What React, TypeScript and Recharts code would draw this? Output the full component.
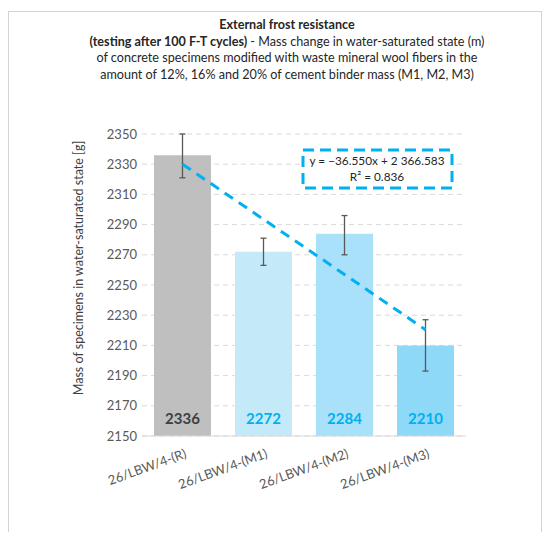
import React from 'react';
import {
  ComposedChart,
  Bar,
  Line,
  Cell,
  XAxis,
  YAxis,
  CartesianGrid,
  ErrorBar,
  LabelList,
} from 'recharts';

const categories = ['26/LBW/4-(R)', '26/LBW/4-(M1)', '26/LBW/4-(M2)', '26/LBW/4-(M3)'];
const masses = [2336, 2272, 2284, 2210];
// [minus, plus] deviations read from the whiskers
const deviations: [number, number][] = [
  [15, 14],
  [9, 9],
  [14, 12],
  [17, 17],
];
// linear trend values at each category
const trendValues = [2330.0, 2293.5, 2257.0, 2220.4];
const yTicks = [2150, 2170, 2190, 2210, 2230, 2250, 2270, 2290, 2310, 2330, 2350];

const barColors = ['#BFBFBF', '#C4EAFA', '#A8E1F9', '#8ED8F8'];
const labelColors = ['#404040', '#00B0F0', '#00B0F0', '#00B0F0'];

const FONT = 'Lato, "Open Sans", sans-serif';
const BLUE = '#00B0F0';

const chartData = categories.map((name, i) => ({
  name,
  mass: masses[i],
  err: deviations[i],
  trend: trendValues[i],
}));

const XTick = (props: any) => {
  const { x, y, payload } = props;
  return (
    <g transform={`translate(${x},${y})`}>
      <text
        x={0}
        y={14}
        textAnchor="end"
        fill="#595959"
        fontSize={13}
        fontFamily={FONT}
        transform="rotate(-20)"
      >
        {payload.value}
      </text>
    </g>
  );
};

const BarValue = (props: any) => {
  const { x, y, width, height, value, index } = props;
  return (
    <text
      x={x + width / 2}
      y={y + height - 12}
      textAnchor="middle"
      fill={labelColors[index]}
      fontSize={15}
      fontWeight={700}
      fontFamily={FONT}
    >
      {value}
    </text>
  );
};

export default function App() {
  return (
    <div
      style={{
        position: 'relative',
        top: 3,
        width: 534,
        height: 524,
        fontFamily: FONT,
        color: '#262626',
      }}
    >
      <div
        style={{
          position: 'absolute',
          top: 6,
          left: 24,
          width: 510,
          textAlign: 'center',
          fontSize: 12.6,
          lineHeight: '16.5px',
          whiteSpace: 'nowrap',
        }}
      >
        <div style={{ fontWeight: 700 }}>External frost resistance</div>
        <div>
          <b>(testing after 100 F-T cycles)</b> - Mass change in water-saturated state (m)
        </div>
        <div>of concrete specimens modified with waste mineral wool fibers in the</div>
        <div>amount of 12%, 16% and 20% of cement binder mass (M1, M2, M3)</div>
      </div>

      <div style={{ position: 'absolute', top: 1, left: 1 }}>
        <ComposedChart
          width={532}
          height={521}
          data={chartData}
          margin={{ top: 122, right: 75, left: 73, bottom: 37 }}
        >
          <CartesianGrid vertical={false} stroke="#D9D9D9" strokeDasharray="5 4" />
          <XAxis
            dataKey="name"
            interval={0}
            height={60}
            tick={<XTick />}
            tickLine={false}
            axisLine={{ stroke: '#D9D9D9' }}
          />
          <YAxis
            width={60}
            domain={[2150, 2350]}
            ticks={yTicks}
            interval={0}
            tickLine={false}
            axisLine={false}
            tickSize={0}
            tickMargin={5}
            tick={{ fill: '#595959', fontSize: 13, fontFamily: FONT }}
            label={{
              content: () => (
                <text
                  x={69}
                  y={256}
                  transform="rotate(-90, 69, 256)"
                  textAnchor="middle"
                  dominantBaseline="central"
                  fill="#404040"
                  fontSize={12.5}
                  fontFamily={FONT}
                >
                  Mass of specimens in water-saturated state [g]
                </text>
              ),
            }}
          />
          <Bar dataKey="mass" barSize={57} isAnimationActive={false}>
            {chartData.map((d, i) => (
              <Cell key={d.name} fill={barColors[i]} />
            ))}
            <LabelList dataKey="mass" content={<BarValue />} />
            <ErrorBar dataKey="err" width={3} stroke="#595959" strokeWidth={1.3} />
          </Bar>
          <Line
            type="linear"
            dataKey="trend"
            stroke={BLUE}
            strokeWidth={3}
            strokeDasharray="10 7"
            dot={false}
            activeDot={false}
            isAnimationActive={false}
          />
        </ComposedChart>
      </div>

      {/* frame and trendline equation box */}
      <svg
        width={534}
        height={524}
        style={{ position: 'absolute', top: 0, left: 0, pointerEvents: 'none' }}
      >
        <rect x={0.5} y={0.5} width={533} height={523} fill="none" stroke="#D4D4D4" strokeWidth={1} />
        <rect
          x={295}
          y={139}
          width={149}
          height={38}
          fill="#fff"
          stroke={BLUE}
          strokeWidth={3}
          strokeDasharray="11 6"
        />
        <text x={369} y={154} textAnchor="middle" fill="#262626" fontSize={11.8} fontFamily={FONT}>
          y = −36.550x + 2 366.583
        </text>
        <text x={369} y={170} textAnchor="middle" fill="#262626" fontSize={11.8} fontFamily={FONT}>
          R² = 0.836
        </text>
      </svg>
    </div>
  );
}
